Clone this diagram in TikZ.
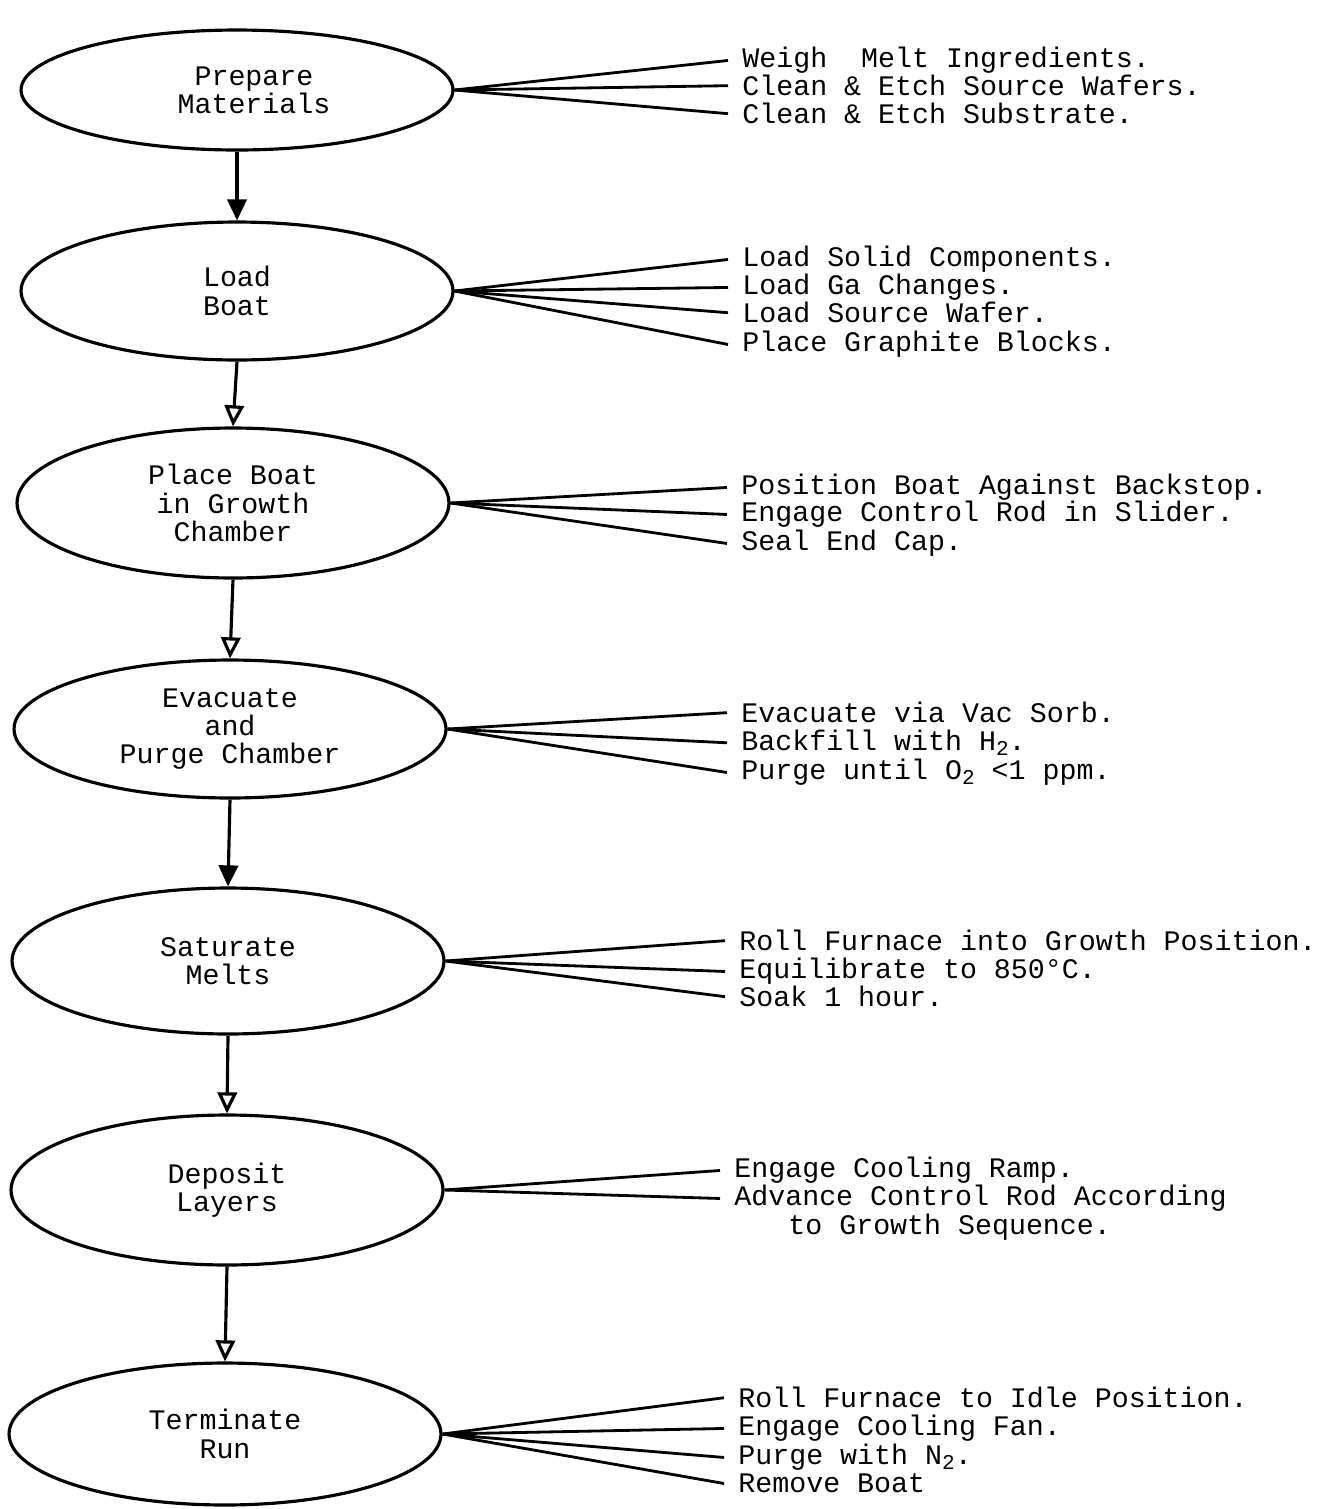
\documentclass[tikz,border=0pt]{standalone}
\usepackage{fontspec}
\setmonofont{Liberation Mono}
\usepackage{tikz}
\usetikzlibrary{shapes.geometric}
\usetikzlibrary{arrows.meta}
\newcommand{\lbl}{\ttfamily\fontsize{16.1}{16.1}\selectfont}
\newcommand{\sub}[1]{\raisebox{-0.3ex}{\fontsize{12}{12}\selectfont #1}}
\tikzstyle{stage} = [ellipse, draw=black, line width=1.8pt, minimum width=8.64cm, minimum height=2.8cm, align=center, font=\lbl]
\tikzstyle{item} = [anchor=mid west, inner xsep=8pt, inner ysep=0pt, yshift=-0.1cm, font=\lbl]
\tikzstyle{fan} = [line width=1.6pt]
\tikzstyle{arrow} = [line width=1.8pt, -{Triangle[length=12pt,width=11pt]}]
\tikzstyle{arrowopen} = [line width=1.8pt, -{Triangle[open,length=12pt,width=11pt]}]

\begin{document}
\begin{tikzpicture}[x=0.02cm, y=-0.02cm]
\useasboundingbox (0,0) rectangle (1343,1509);

\node (prep) [stage, minimum height=2.4cm] at (237,90) {\hspace{1.2em}Prepare\\\hspace{1.2em}Materials};
\node (load) [stage, minimum height=2.76cm] at (237,291) {Load\\Boat};
\node (place) [stage, minimum height=3cm] at (233,503) {Place Boat\\in Growth\\Chamber};
\node (evac) [stage, minimum height=2.76cm] at (230,729) {Evacuate\\and\\Purge Chamber};
\node (sat) [stage, minimum height=2.92cm] at (228,961) {Saturate\\Melts};
\node (dep) [stage, minimum height=3cm] at (227,1190) {Deposit\\Layers};
\node (term) [stage, minimum height=2.84cm] at (225,1434) {Terminate\\Run};

\draw [arrow] (prep.south) -- (load.north);
\draw [arrowopen] (load.south) -- (place.north);
\draw [arrowopen] (place.south) -- (evac.north);
\draw [arrow] (evac.south) -- (sat.north);
\draw [arrowopen] (sat.south) -- (dep.north);
\draw [arrowopen] (dep.south) -- (term.north);

% prepare materials
\node (prep1) [item] at (728,59) {Weigh\ \ Melt Ingredients.};
\node (prep2) [item] at (728,87) {Clean \& Etch Source Wafers.};
\node (prep3) [item] at (728,115) {Clean \& Etch Substrate.};
\foreach \i in {1,2,3} \draw [fan] (prep.east) -- (prep\i.west);

% load boat
\node (load1) [item] at (728,258) {Load Solid Components.};
\node (load2) [item] at (728,286) {Load Ga Changes.};
\node (load3) [item] at (728,314) {Load Source Wafer.};
\node (load4) [item] at (728,343) {Place Graphite Blocks.};
\foreach \i in {1,...,4} \draw [fan] (load.east) -- (load\i.west);

% place boat
\node (place1) [item] at (727,486) {Position Boat Against Backstop.};
\node (place2) [item] at (727,513) {Engage Control Rod in Slider.};
\node (place3) [item] at (727,542) {Seal End Cap.};
\foreach \i in {1,2,3} \draw [fan] (place.east) -- (place\i.west);

% evacuate
\node (evac1) [item] at (727,714) {Evacuate via Vac Sorb.};
\node (evac2) [item] at (727,742) {Backfill with H\sub{2}.};
\node (evac3) [item] at (727,771) {Purge until O\sub{2} <1 ppm.};
\foreach \i in {1,2,3} \draw [fan] (evac.east) -- (evac\i.west);

% saturate
\node (sat1) [item] at (725,942) {Roll Furnace into Growth Position.};
\node (sat2) [item] at (725,970) {Equilibrate to 850°C.};
\node (sat3) [item] at (725,998) {Soak 1 hour.};
\foreach \i in {1,2,3} \draw [fan] (sat.east) -- (sat\i.west);

% deposit
\node (dep1) [item] at (720,1169) {Engage Cooling Ramp.};
\node (dep2) [item] at (720,1197) {Advance Control Rod According};
\node (dep3) [item] at (774,1226) {to Growth Sequence.};
\foreach \i in {1,2} \draw [fan] (dep.east) -- (dep\i.west);

% terminate
\node (term1) [item] at (724,1399) {Roll Furnace to Idle Position.};
\node (term2) [item] at (724,1427) {Engage Cooling Fan.};
\node (term3) [item] at (724,1456) {Purge with N\sub{2}.};
\node (term4) [item] at (724,1484) {Remove Boat};
\foreach \i in {1,...,4} \draw [fan] (term.east) -- (term\i.west);

\end{tikzpicture}
\end{document}
